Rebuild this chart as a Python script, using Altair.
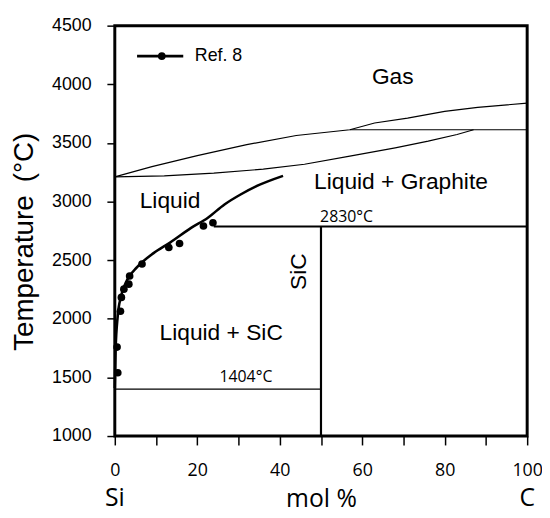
import altair as alt
import pandas as pd

# ---- data ----
gas_upper_x = [0, 9, 20, 32, 44, 57, 63, 71, 80, 88, 100]
gas_upper_t = [3210, 3298, 3392, 3485, 3563, 3612, 3670, 3712, 3769, 3803, 3840]

gas_lower_x = [0, 12, 24, 36, 46, 57, 68, 76, 83, 87]
gas_lower_t = [3210, 3219, 3242, 3276, 3318, 3388, 3458, 3515, 3572, 3612]

liq_x = [0, 0.2, 0.7, 1.5, 3.0, 5.4, 9.4, 13.4, 18.5, 22.5, 26.6, 30.5, 34.6, 40.8]
liq_t = [1410, 1740, 2021, 2190, 2332, 2440, 2560, 2650, 2775, 2860, 2975, 3060, 3135, 3219]

ref_x = [0.72, 0.55, 1.37, 1.6, 2.2, 3.4, 3.6, 6.6, 13.1, 15.7, 21.5, 23.8]
ref_t = [1540, 1759, 2064, 2182, 2253, 2295, 2365, 2467, 2608, 2642, 2791, 2819]

# straight boundaries: x, x2, t, t2, stroke width
seg_x = [57, 0, 24, 50]
seg_x2 = [100, 50, 100, 50]
seg_t = [3612, 1400, 2787, 1000]
seg_t2 = [3612, 1400, 2787, 2787]
seg_w = [1.2, 1.2, 2.2, 2.2]

labels = ["Gas", "Liquid + Graphite", "Liquid", "Liquid + SiC"]
label_x = [67.4, 69.4, 13.4, 25.8]
label_t = [4065, 3163, 3008, 1881]

temp_labels = ["1404\u00b0C", "2830\u00b0C"]
temp_x = [31.8, 56.2]
temp_t = [1500, 2867]

xs = alt.Scale(domain=[0, 100], nice=False, zero=False)
ys = alt.Scale(domain=[1000, 4500], nice=False, zero=False)

x_axis = alt.Axis(
    values=list(range(0, 101, 10)),
    labelExpr="datum.value % 20 == 0 ? datum.label : ''",
    title="mol %",
    titleFont="Open Sans", titleFontSize=25, titleFontWeight="normal", titleColor="black",
    titlePadding=7,
    labelFont="Open Sans", labelFontSize=18, labelColor="black", labelPadding=17,
    tickSize=9, tickColor="black", tickWidth=1.5, domain=False, grid=False,
    labelFlush=False, labelOverlap=False,
)
y_axis = alt.Axis(
    values=list(range(1000, 4501, 500)),
    format="d",
    title="Temperature \u2009(\u00b0C)",
    titleFont="Liberation Sans", titleFontSize=28, titleFontWeight="normal", titleColor="black",
    titlePadding=13, titleY=218,
    labelFont="Liberation Sans", labelFontSize=18, labelColor="black", labelPadding=16,
    tickSize=8, tickColor="black", tickWidth=1.5, domain=False, grid=False,
    labelFlush=False, labelOverlap=False,
)


def X(field="x"):
    return alt.X(f"{field}:Q", scale=xs, axis=x_axis)


def Y(field="t"):
    return alt.Y(f"{field}:Q", scale=ys, axis=y_axis)


up = pd.DataFrame({"x": gas_upper_x, "t": gas_upper_t})
lo = pd.DataFrame({"x": gas_lower_x, "t": gas_lower_t})
liq = pd.DataFrame({"x": liq_x, "t": liq_t})
ref = pd.DataFrame({"x": ref_x, "t": ref_t})
seg = pd.DataFrame({"x": seg_x, "x2": seg_x2, "t": seg_t, "t2": seg_t2, "w": seg_w})
lab = pd.DataFrame({"x": label_x, "t": label_t, "s": labels})
tl = pd.DataFrame({"x": temp_x, "t": temp_t, "s": temp_labels})

upper = alt.Chart(up).mark_line(color="black", strokeWidth=1.2).encode(x=X(), y=Y(), order="x:Q")
lower = alt.Chart(lo).mark_line(color="black", strokeWidth=1.2).encode(x=X(), y=Y(), order="x:Q")
segs = alt.Chart(seg).mark_rule(color="black").encode(
    x=X(), x2="x2:Q", y=Y(), y2="t2:Q", strokeWidth=alt.StrokeWidth("w:Q", scale=None)
)
liquidus = alt.Chart(liq).mark_line(color="black", strokeWidth=2.6, interpolate="monotone").encode(
    x=X(), y=Y(), order="x:Q"
)
dots = alt.Chart(ref).mark_circle(color="black", opacity=1, size=60).encode(x=X(), y=Y())

# legend
leg_line = alt.Chart(pd.DataFrame({"x": [5.4, 16.6], "t": [4240, 4240]})).mark_line(
    color="black", strokeWidth=2.6
).encode(x=X(), y=Y())
leg_dot = alt.Chart(pd.DataFrame({"x": [11.4], "t": [4240]})).mark_circle(
    color="black", opacity=1, size=60
).encode(x=X(), y=Y())
leg_txt = alt.Chart(pd.DataFrame({"x": [19.4], "t": [4240], "s": ["Ref. 8"]})).mark_text(
    font="Liberation Sans", fontSize=18, align="left", baseline="middle", color="black"
).encode(x=X(), y=Y(), text="s:N")

region_txt = alt.Chart(lab).mark_text(
    font="Liberation Sans", fontSize=23, align="center", baseline="middle", color="black"
).encode(x=X(), y=Y(), text="s:N")
sic_txt = alt.Chart(pd.DataFrame({"x": [44.6], "t": [2402], "s": ["SiC"]})).mark_text(
    font="Liberation Sans", fontSize=23, align="center", baseline="middle", angle=270, color="black"
).encode(x=X(), y=Y(), text="s:N")
temp_txt = alt.Chart(tl).mark_text(
    font="Open Sans", fontSize=16, align="center", baseline="middle", color="black"
).encode(x=X(), y=Y(), text="s:N")
end_txt = alt.Chart(pd.DataFrame({"x": [0, 100], "t": [470, 470], "s": ["Si", "C"]})).mark_text(
    font="Open Sans", fontSize=25, align="center", baseline="middle", color="black"
).encode(x=X(), y=Y(), text="s:N")

chart = alt.layer(
    upper, lower, segs, liquidus, dots, leg_line, leg_dot, leg_txt,
    region_txt, sic_txt, temp_txt, end_txt,
).properties(
    width=417, height=415,
    autosize=alt.AutoSizeParams(type="none"),
    padding={"left": 108, "top": 15, "right": 15, "bottom": 78},
).configure_view(stroke="black", strokeWidth=3)

chart.save("out.html", embed_options={"renderer": "svg", "actions": False})
